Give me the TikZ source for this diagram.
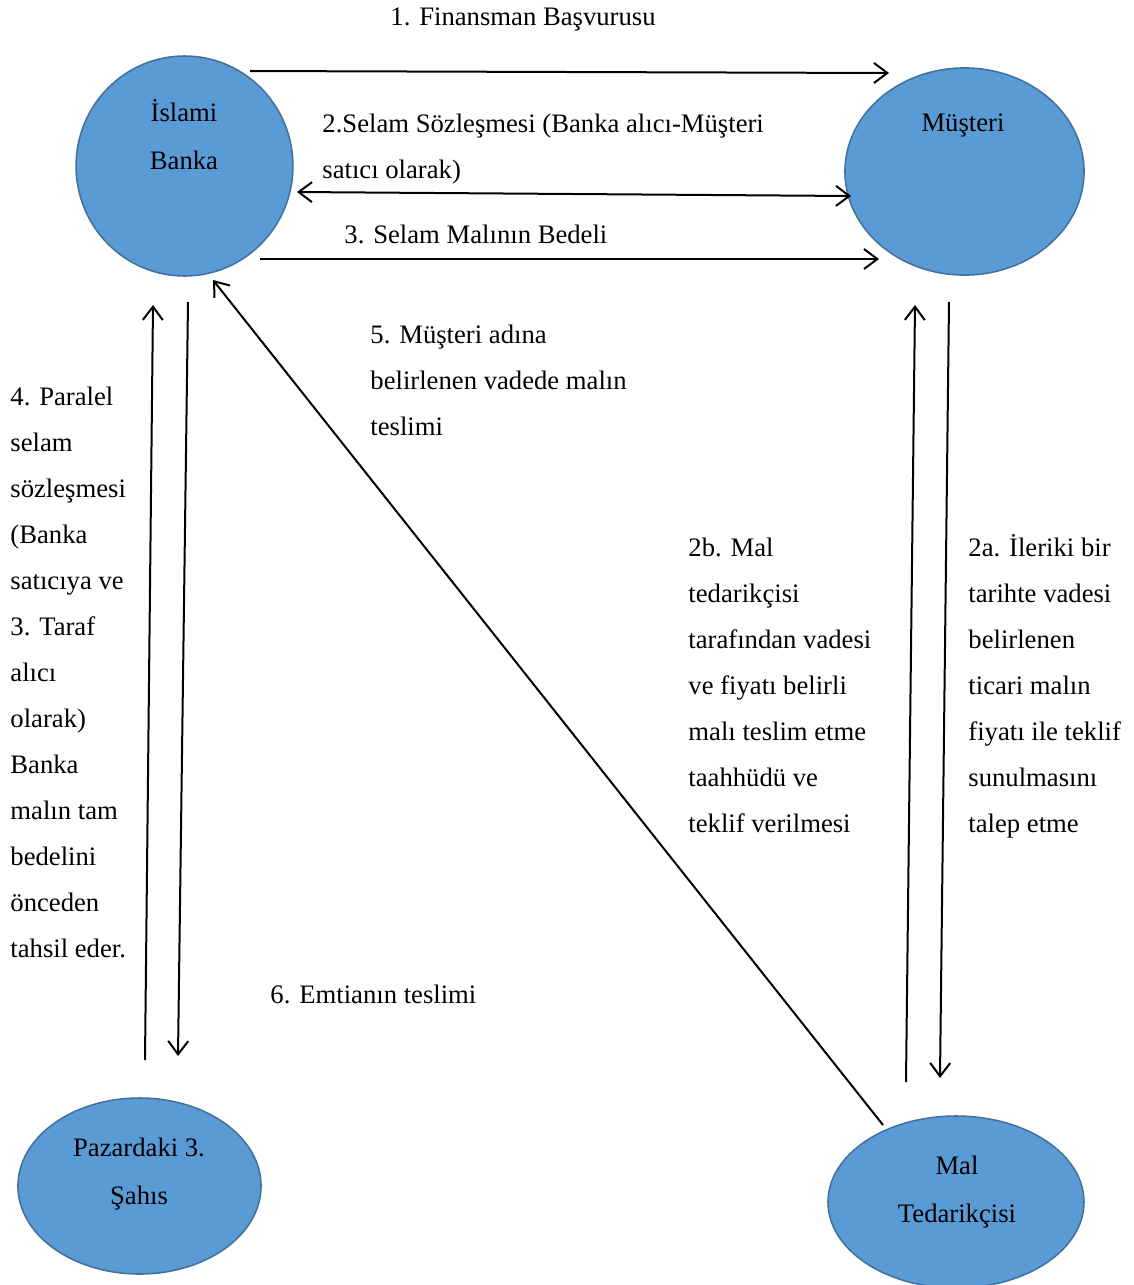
\documentclass[tikz,border=0pt]{standalone}
\usepackage{fontspec}
\setmainfont{Liberation Serif}
\usetikzlibrary{arrows.meta}
\usetikzlibrary{shapes.geometric}
\usetikzlibrary{positioning}
\definecolor{partyfill}{HTML}{5B9BD5}
\definecolor{partyline}{HTML}{41719C}
\tikzset{party/.style = {ellipse, fill = partyfill, draw = partyline, line width = 0.7pt, inner sep = 0, outer sep = 0}}
\tikzset{partytext/.style = {anchor = base, inner sep = 0, align = center, font = \fontsize{12}{21.3}\selectfont}}
\tikzset{lbl/.style = {anchor = base west, inner sep = 0, align = left, font = \fontsize{12}{20.7}\selectfont}}
\tikzset{flow/.style = {line width = 0.9pt}}

\begin{document}
\begin{tikzpicture}[x = 0.45pt, y = -0.45pt, >={Straight Barb[length = 6pt, width = 9pt]}]
  \useasboundingbox (0, 0) rectangle (1134, 1285);

  % parties (text nodes sit on the baseline of their last line)
  \node [party, minimum width = 97.6pt, minimum height = 99pt] (bank) at (184.5, 166) {};
  \node [party, minimum width = 107.6pt, minimum height = 93.2pt] (client) at (964.5, 171.5) {};
  \node [party, minimum width = 109.4pt, minimum height = 79.2pt] (third) at (139.5, 1186) {};
  \node [party, minimum width = 115.2pt, minimum height = 77.4pt] (supplier) at (956, 1202) {};
  \node [partytext] (banktxt) at (184, 169) {İslami\\Banka};
  \node [partytext] (clienttxt) at (963, 131) {Müşteri};
  \node [partytext] (thirdtxt) at (139, 1204) {Pazardaki 3.\\Şahıs};
  \node [partytext] (suppliertxt) at (957, 1222) {Mal\\Tedarikçisi};

  % connector ends
  \coordinate (finS) at (250, 71);
  \coordinate (finE) at (889, 73);
  \coordinate (selS) at (297, 192);
  \coordinate (selE) at (851, 196);
  \coordinate (payS) at (260, 259);
  \coordinate (payE) at (879, 259);
  \coordinate (parS) at (145, 1060);
  \coordinate (parE) at (153, 305);
  \coordinate (delS) at (188, 302);
  \coordinate (delE) at (178, 1056);
  \coordinate (dueS) at (883, 1125);
  \coordinate (dueE) at (213, 280);
  \coordinate (offS) at (906, 1082);
  \coordinate (offE) at (915, 305);
  \coordinate (reqS) at (949, 302);
  \coordinate (reqE) at (940, 1078);

  \draw [flow, ->] (finS) -- (finE);
  \draw [flow, <->] (selS) -- (selE);
  \draw [flow, ->] (payS) -- (payE);
  \draw [flow, ->] (parS) -- (parE);
  \draw [flow, ->] (delS) -- (delE);
  \draw [flow, ->] (dueS) -- (dueE);
  \draw [flow, ->] (offS) -- (offE);
  \draw [flow, ->] (reqS) -- (reqE);

  % labels
  \node [lbl] (finlbl) at (390, 25) {1. Finansman Başvurusu};
  \node [lbl] (sellbl) at (322, 178) {2.Selam Sözleşmesi (Banka alıcı-Müşteri\\satıcı olarak)};
  \node [lbl] (paylbl) at (344, 243) {3. Selam Malının Bedeli};
  \node [lbl] (parlbl) at (10, 957) {4. Paralel\\selam\\sözleşmesi\\(Banka\\satıcıya ve\\3. Taraf\\alıcı\\olarak)\\Banka\\malın tam\\bedelini\\önceden\\tahsil eder.};
  \node [lbl] (duelbl) at (370, 435) {5. Müşteri adına\\belirlenen vadede malın\\teslimi};
  \node [lbl] (offlbl) at (688, 832) {2b. Mal\\tedarikçisi\\tarafından vadesi\\ve fiyatı belirli\\malı teslim etme\\taahhüdü ve\\teklif verilmesi};
  \node [lbl] (reqlbl) at (968, 832) {2a. İleriki bir\\tarihte vadesi\\belirlenen\\ticari malın\\fiyatı ile teklif\\sunulmasını\\talep etme};
  \node [lbl] (dellbl) at (270, 1003) {6. Emtianın teslimi};
\end{tikzpicture}
\end{document}
